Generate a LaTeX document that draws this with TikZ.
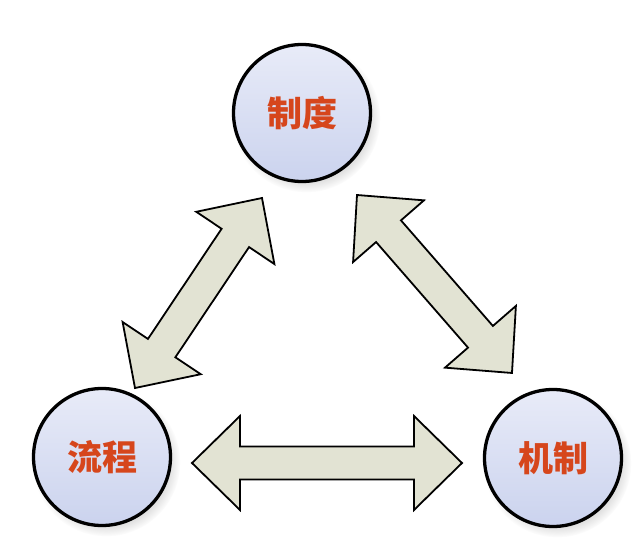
\documentclass[tikz,border=0pt]{standalone}
\usepackage{fontspec}
\usepackage{tikz}
\usetikzlibrary{calc,shadows}
\newfontfamily\cjk{Noto Sans CJK SC}

\definecolor{labelred}{RGB}{214,70,28}
\definecolor{balltop}{RGB}{232,235,248}
\definecolor{ballbottom}{RGB}{203,211,238}
\definecolor{arrowfill}{RGB}{226,227,211}

\tikzset{
	ball/.style={circle, draw=black, line width=3.3pt, minimum size=137pt, inner sep=0pt,
		top color=balltop, bottom color=ballbottom,
		circular drop shadow={shadow xshift=4pt, shadow yshift=-5pt, opacity=0.25, shadow scale=1.08},
		font=\cjk\bfseries\fontsize{35pt}{35pt}\selectfont, text=labelred},
	blockarrow/.style={draw=black, line width=1.8pt, fill=arrowfill, line join=miter,
		to path={let \p1=($(\tikztotarget)-(\tikztostart)$), \n1={atan2(\y1,\x1)}, \n2={veclen(\x1,\y1)} in
			[shift={(\tikztostart)}, rotate=\n1]
			(0,0) -- (48,47) -- (48,16.5) -- ({\n2-48},16.5) -- ({\n2-48},47) -- (\n2,0)
			-- ({\n2-48},-47) -- ({\n2-48},-16.5) -- (48,-16.5) -- (48,-47) -- cycle}}
}

\begin{document}
\begin{tikzpicture}[x=1pt, y=-1pt]
	\useasboundingbox[fill=white] (0,0) rectangle (640,554);
	
	\node[ball] (zd) at (302,113) {制度};
	\node[ball] (lc) at (102,457) {流程};
	\node[ball] (jz) at (553,458) {机制};
	
	\coordinate (lc-up) at (135,388);
	\coordinate (zd-left) at (262,198);
	\coordinate (zd-right) at (357,195);
	\coordinate (jz-up) at (512,373);
	\coordinate (lc-right) at (192,463);
	\coordinate (jz-left) at (462,463);
	
	\draw[blockarrow] (lc-up) to (zd-left);
	\draw[blockarrow] (zd-right) to (jz-up);
	\draw[blockarrow] (lc-right) to (jz-left);
\end{tikzpicture}
\end{document}
